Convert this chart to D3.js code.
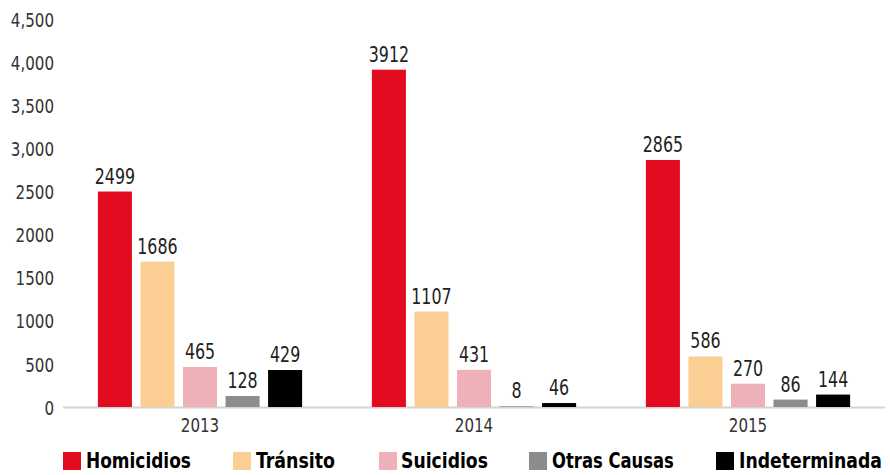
<!DOCTYPE html>
<html><head><meta charset="utf-8">
<script src="https://cdn.jsdelivr.net/npm/d3@7"></script>
<style>
body{margin:0;background:#fff;}
text{font-family:"DejaVu Sans Condensed","DejaVu Sans",sans-serif;}
</style></head>
<body><svg id="c" width="890" height="475"></svg>
<script>
const years = ["2013","2014","2015"];
const seriesNames = ["Homicidios","Tránsito","Suicidios","Otras Causas","Indeterminada"];
const seriesColors = ["#e30b20","#fbcf94","#eeb1ba","#8c8c8c","#000000"];
const homicidios = [2499,3912,2865];
const transito = [1686,1107,586];
const suicidios = [465,431,270];
const otras = [128,8,86];
const indeterminada = [429,46,144];
const tickValues = [0,500,1000,1500,2000,2500,3000,3500,4000,4500];
const tickLabels = ["0","500","1000","1500","2000","2500","3,000","3,500","4,000","4,500"];

(function(){
const allSeries = [homicidios,transito,suicidios,otras,indeterminada];
const svg = d3.select("#c");
const mLeft = 63, mRight = 885, mTop = 19, base = 407;
const SX = 0.84;

const x0 = d3.scaleBand().domain(years).range([mLeft,mRight]).padding(0);
const x1 = d3.scaleBand().domain(seriesNames).range([0,x0.bandwidth()]).paddingInner(0.2).paddingOuter(0.82);
const y = d3.scaleLinear().domain([0,4500]).range([base,mTop]);

// y axis
const yAxis = d3.axisLeft(y).tickValues(tickValues).tickFormat((d,i)=>tickLabels[i]).tickSize(0).tickPadding(0);
const ga = svg.append("g").attr("transform","translate(54,0)").call(yAxis);
ga.select(".domain").remove();
ga.selectAll("text").attr("font-size",20).attr("fill","#333").attr("dy","0.36em").attr("x",0)
  .attr("transform",`scale(${SX},1)`)
  .style("font-family","'DejaVu Sans Condensed','DejaVu Sans',sans-serif");

svg.append("line").attr("x1",mLeft).attr("x2",mRight).attr("y1",base+0.5).attr("y2",base+0.5)
  .attr("stroke","#d4d4d4").attr("stroke-width",2);

const groups = svg.selectAll("g.yr").data(years).enter().append("g").attr("class","yr")
  .attr("transform",d=>`translate(${x0(d)},0)`);
groups.each(function(yr,yi){
  const g = d3.select(this);
  seriesNames.forEach((s,si)=>{
    const v = allSeries[si][yi];
    g.append("rect").attr("x",x1(s)).attr("width",x1.bandwidth())
      .attr("y",y(v)).attr("height",base-y(v)).attr("fill",seriesColors[si]);
    g.append("text")
      .attr("transform",`translate(${x1(s)+x1.bandwidth()/2},${y(v)-8}) scale(${SX},1)`)
      .attr("text-anchor","middle").attr("font-size",21).attr("fill","#222").text(v);
  });
});

// x axis
const xAxis = d3.axisBottom(x0).tickSize(0).tickPadding(0);
const gx = svg.append("g").attr("transform",`translate(0,${base+11})`).call(xAxis);
gx.select(".domain").remove();
gx.selectAll("text").attr("font-size",20).attr("fill","#333").attr("dy","0.71em")
  .attr("transform",`scale(${SX},1)`)
  .style("font-family","'DejaVu Sans Condensed','DejaVu Sans',sans-serif");

// legend
const legX = [63,233,379,529,716];
const legW = [105,79,87,122,143];
const leg = svg.selectAll("g.leg").data(seriesNames).enter().append("g").attr("class","leg")
  .attr("transform",(d,i)=>`translate(${legX[i]},452)`);
leg.append("rect").attr("width",18).attr("height",18).attr("fill",(d,i)=>seriesColors[i]);
leg.append("text").attr("font-size",21).attr("font-weight","bold")
  .attr("fill","#000").text(d=>d)
  .each(function(d,i){
    const nat = this.getComputedTextLength();
    const s = legW[i]/nat;
    const tx = i===2 ? 22 : 23;
    d3.select(this).attr("transform",`translate(${tx},16) scale(${s},1)`);
  });
})();
</script></body></html>
